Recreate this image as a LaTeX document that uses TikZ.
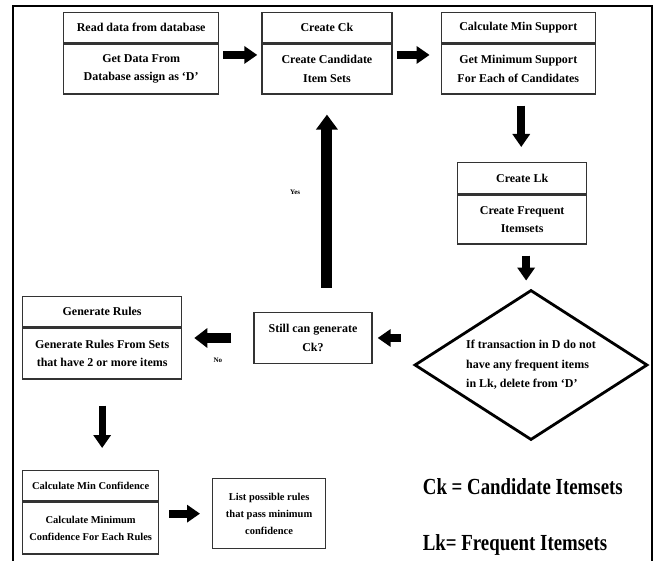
\documentclass[tikz,border=0pt]{standalone}
\usepackage{fontspec}
\setmainfont{Liberation Serif}
\usetikzlibrary{arrows.meta,positioning,shapes.geometric}
\tikzset{box/.style={draw=black!80,line width=1.3pt,align=center,inner sep=2pt,
  font=\fontsize{12}{18.5}\selectfont\bfseries},
  lowbox/.style={box,font=\fontsize{10.5}{17}\selectfont\bfseries},
  dia/.style={diamond,draw,line width=2.8pt,aspect=1.55,inner sep=0pt,
  minimum width=233pt,minimum height=150pt,align=left,
  font=\fontsize{12}{19.5}\selectfont\bfseries},
  fat/.style={line width=8pt,-{Triangle[length=13pt,width=17pt]}},
  key/.style={font=\fontsize{23}{26}\selectfont\bfseries,xscale=0.82,anchor=west},
  small/.style={font=\fontsize{7}{8}\selectfont\bfseries}}

\begin{document}
\begin{tikzpicture}[x=1pt,y=1pt]
\useasboundingbox (0,0) rectangle (656,560);
\draw[line width=2.5pt] (13,-10) |- (652,554) -- (652,-10);
\node[box,anchor=north west,minimum width=155pt,minimum height=30pt] (readh) at (63,548) {Read data from database};
\node[box,below=0pt of readh,minimum width=155pt,minimum height=50pt] (read) {Get Data From\\Database assign as `D'};
\node[box,anchor=north west,right=42pt of readh,minimum width=130pt,minimum height=30pt] (ckh) {Create Ck};
\node[box,below=0pt of ckh,minimum width=130pt,minimum height=50pt] (ck) {Create Candidate\\Item Sets};
\node[box,right=48pt of ckh,minimum width=154pt,minimum height=30pt] (suph) {Calculate Min Support};
\node[box,below=0pt of suph,minimum width=154pt,minimum height=50pt] (sup) {Get Minimum Support\\For Each of Candidates};
\node[box,anchor=north west,minimum width=129pt,minimum height=31pt] (lkh) at (457,398) {Create Lk};
\node[box,below=0pt of lkh,minimum width=129pt,minimum height=49pt] (lk) {Create Frequent\\Itemsets};
\node[dia] (test) at (531,195) {If transaction in D do not\\have any frequent items\\in Lk, delete from `D'};
\node[box,minimum width=118pt,minimum height=51pt] (still) at (313,222) {Still can generate\\Ck?};
\node[box,anchor=north west,minimum width=159pt,minimum height=30pt] (genh) at (22,264) {Generate Rules};
\node[box,below=0pt of genh,minimum width=159pt,minimum height=51pt] (gen) {Generate Rules From Sets\\that have 2 or more items};
\node[lowbox,anchor=north west,minimum width=136pt,minimum height=30pt] (confh) at (22,90) {Calculate Min Confidence};
\node[lowbox,below=0pt of confh,minimum width=136pt,minimum height=52pt] (conf) {Calculate Minimum\\Confidence For Each Rules};
\node[lowbox,anchor=north west,minimum width=113pt,minimum height=70pt] (list) at (212,82) {List possible rules\\that pass minimum\\confidence};
\node[key] (ckkey) at (420,73) {Ck = Candidate Itemsets};
\node[key] (lkkey) at (420,15) {Lk= Frequent Itemsets};
\draw[fat,shorten <=4pt,shorten >=4pt] ([yshift=14pt]read.east) -- ([yshift=14pt]ck.west);
\draw[fat,shorten <=4pt,shorten >=11pt] ([yshift=14pt]ck.east) -- ([yshift=14pt]sup.west);
\draw[fat,shorten <=11pt,shorten >=15pt] ([xshift=3pt]sup.south) -- ([xshift=3pt]sup.south |- lkh.north);
\draw[fat,shorten <=11pt,shorten >=8pt] ([xshift=4pt]lk.south) -- ([xshift=4pt]lk.south |- test.north);
\draw[fat,shorten <=12pt,shorten >=5pt] (still.east -| test.west) -- (still.east);
\draw[fat,line width=10pt,-{Triangle[length=13pt,width=19pt]},shorten <=22pt,shorten >=12pt] (still.west) -- (still.west -| gen.east)
  node[small,midway,below=12pt] {No};
\draw[fat,line width=11pt,-{Triangle[length=15pt,width=21pt]},shorten <=24pt,shorten >=20pt] (ck.south |- still.north) -- (ck.south)
  node[small,pos=0.55,left=18pt] {Yes};
\draw[fat,line width=7pt,shorten <=26pt,shorten >=22pt] (gen.south) -- (gen.south |- confh.north);
\draw[fat,shorten <=10pt,shorten >=12pt] (list.west -| conf.east) -- (list.west);
\end{tikzpicture}
\end{document}
